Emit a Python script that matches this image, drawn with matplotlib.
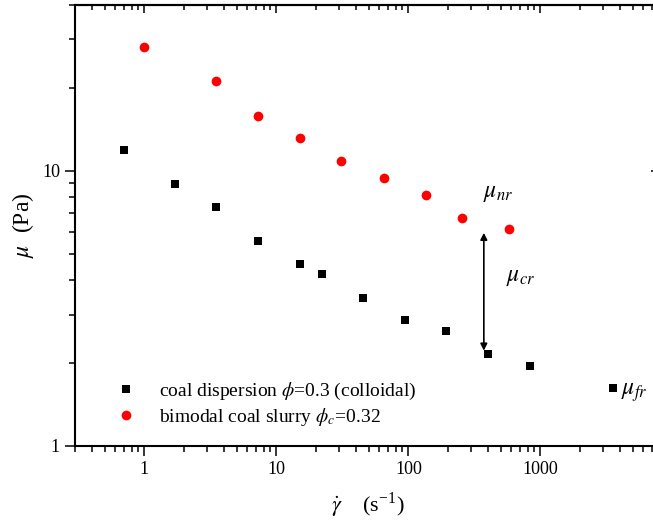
import matplotlib
matplotlib.use("Agg")
import matplotlib.pyplot as plt
from matplotlib.ticker import LogLocator, FuncFormatter, NullFormatter

plt.rcParams["font.family"] = ["Liberation Serif", "DejaVu Serif"]
plt.rcParams["mathtext.fontset"] = "stix"

# ===== Data =====
colloid_rate = [0.7, 1.7, 3.5, 7.3, 15, 22, 45, 94, 193, 400, 830, 3560]
colloid_mu = [11.9, 8.95, 7.4, 5.55, 4.6, 4.2, 3.45, 2.87, 2.61, 2.15, 1.95, 1.62]

bimodal_rate = [1.0, 3.5, 7.3, 15, 31, 65, 135, 253, 574]
bimodal_mu = [28.1, 21.1, 15.8, 13.1, 10.85, 9.4, 8.15, 6.75, 6.15]

arrow_rate = 373
arrow_mu = (5.95, 2.22)

labels = ["coal dispersion $\\phi$=0.3 (colloidal)",
          "bimodal coal slurry $\\phi_c$=0.32"]

# ===== Figure =====
W, H = 653, 523
fig = plt.figure(figsize=(W / 100, H / 100), dpi=100)
left, right, top, bottom = 75.3, 659.6, 5.0, 446.0
ax = fig.add_axes([left / W, 1 - bottom / H, (right - left) / W, (bottom - top) / H])

ax.set_xscale("log")
ax.set_yscale("log")
ax.set_xlim(0.3, 8000)
ax.set_ylim(1, 40)

ax.plot(colloid_rate, colloid_mu, "s", color="black", ms=6, mew=0, label=labels[0])
ax.plot(bimodal_rate, bimodal_mu, "o", color="red", ms=7, mew=0, label=labels[1])

ax.annotate("", xy=(arrow_rate, arrow_mu[1]), xytext=(arrow_rate, arrow_mu[0]),
            arrowprops=dict(arrowstyle="<|-|>", color="black", lw=1.2,
                            mutation_scale=10, shrinkA=0, shrinkB=0))

ax.text(365, 8.3, r"$\mu_{nr}$", fontsize=17, ha="left", va="center")
ax.text(550, 4.1, r"$\mu_{cr}$", fontsize=17, ha="left", va="center")
ax.text(4100, 1.56, r"$\mu_{fr}$", fontsize=17, ha="left", va="center")

# ticks
fmt = FuncFormatter(lambda v, p: f"{v:g}")
for axis in (ax.xaxis, ax.yaxis):
    axis.set_major_locator(LogLocator(base=10))
    axis.set_minor_locator(LogLocator(base=10, subs=range(2, 10)))
    axis.set_major_formatter(fmt)
    axis.set_minor_formatter(NullFormatter())

ax.tick_params(which="major", direction="out", length=7, width=1.1, labelsize=13, pad=4)
ax.tick_params(which="minor", direction="out", length=4, width=1.1)
for s in ax.spines.values():
    s.set_linewidth(1.5)

secx = ax.secondary_xaxis("top")
secx.xaxis.set_major_locator(LogLocator(base=10))
secx.xaxis.set_minor_locator(LogLocator(base=10, subs=range(2, 10)))
secx.tick_params(which="major", direction="in", length=6, width=1.1, labeltop=False)
secx.tick_params(which="minor", direction="in", length=3.5, width=1.1)
secx.spines["top"].set_linewidth(1.5)

secy = ax.secondary_yaxis("right")
secy.yaxis.set_major_locator(LogLocator(base=10))
secy.yaxis.set_minor_locator(LogLocator(base=10, subs=range(2, 10)))
secy.tick_params(which="major", direction="in", length=6.5, width=1.1, labelright=False)
secy.tick_params(which="minor", direction="in", length=3.5, width=1.1)

ax.set_xlabel(r"$\dot{\gamma}$    (s$^{\mathregular{-1}}$)", fontsize=16, labelpad=9)
ax.set_ylabel(r"$\mu$  (Pa)", fontsize=17, labelpad=4)

leg = ax.legend(loc="upper left", bbox_to_anchor=(108.7 / W, 1 - 381 / H),
                bbox_transform=fig.transFigure, frameon=False, fontsize=14,
                handlelength=1.8, handletextpad=0.8, borderpad=0, labelspacing=0.2,
                borderaxespad=0)

fig.savefig("out.png", dpi=100)
